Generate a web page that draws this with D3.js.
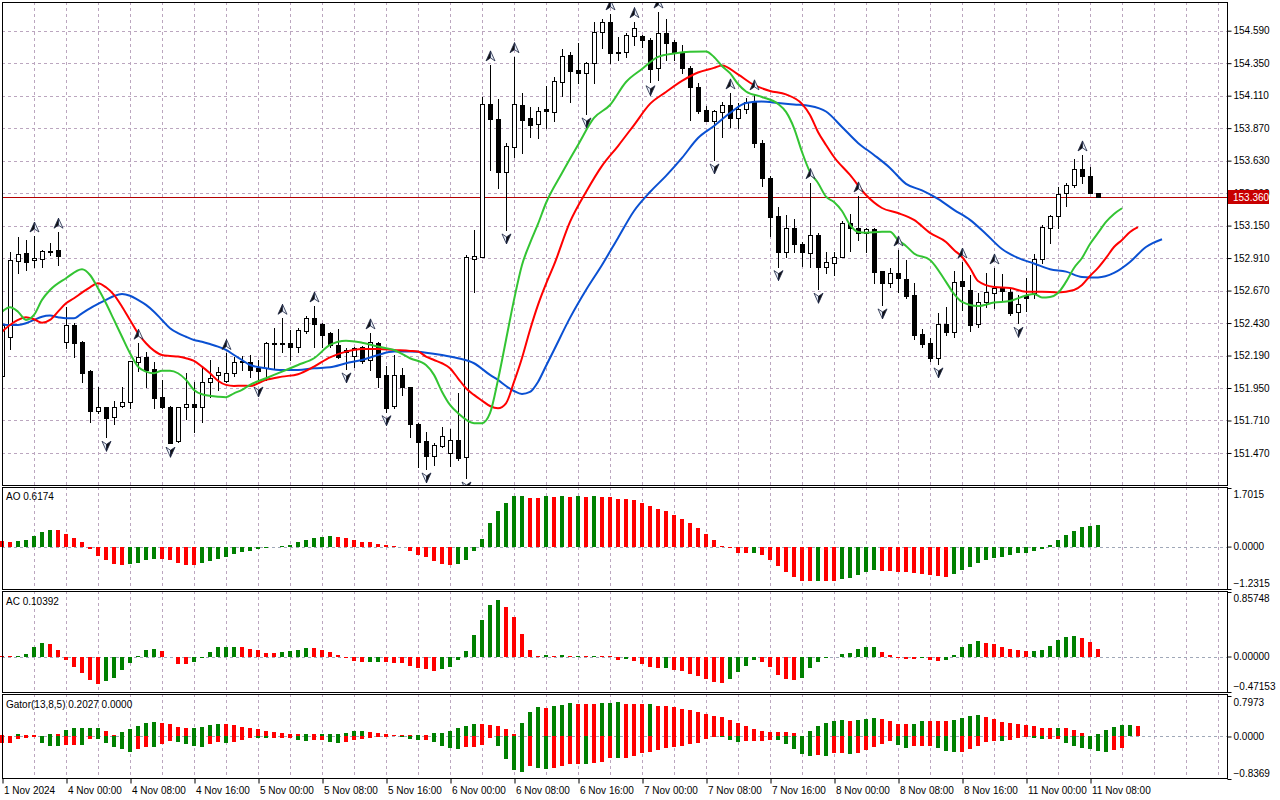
<!DOCTYPE html>
<html>
<head>
<meta charset="utf-8">
<script src="https://cdn.jsdelivr.net/npm/d3@7"></script>
<style>
  body { margin: 0; background: #fff; }
  svg { display: block; font-family: "Liberation Sans", Arial, sans-serif; }
</style>
</head>
<body>
<div id="chart"></div>
<script>
const width = 1280;
const height = 800;
const left = 2;
const right = 1227;

// USDJPY-like H1 candles, 1 Nov 16:00 .. 11 Nov 09:00
const opens = [152.039,152.327,152.891,152.946,152.894,152.906,152.965,152.970,152.293,152.416,
152.293,152.076,151.783,151.808,151.734,151.815,151.849,152.145,152.177,152.091,
151.886,151.812,151.561,151.808,151.832,151.812,151.993,152.047,152.004,152.059,
152.146,152.145,152.098,152.096,152.276,152.285,152.281,152.251,152.374,152.465,
152.423,152.355,152.268,152.216,152.187,152.255,152.157,152.285,152.047,151.817,
152.047,151.956,151.684,151.559,151.448,151.524,151.472,151.566,151.441,152.901,
152.921,154.049,153.938,153.548,153.733,154.041,153.943,153.899,154.010,153.992,
154.213,154.411,154.300,154.280,154.349,154.578,154.657,154.423,154.435,154.553,
154.551,154.521,154.312,154.571,154.509,154.435,154.312,154.172,154.004,153.925,
153.992,154.041,153.943,154.010,154.066,153.758,153.500,153.221,152.957,153.130,
153.014,152.950,153.081,152.847,152.876,152.916,153.167,153.130,153.093,153.123,
152.817,152.728,152.798,152.754,152.638,152.349,152.281,152.174,152.421,152.366,
152.741,152.674,152.423,152.584,152.650,152.687,152.662,152.510,152.638,152.650,
152.901,153.135,153.221,153.389,153.450,153.566,153.519,153.393];
const highs = [152.527,152.955,153.066,153.044,153.073,152.970,153.019,153.101,152.551,152.431,
152.300,152.080,151.960,151.812,151.854,151.960,152.150,152.281,152.219,152.140,
152.010,151.816,151.812,152.064,151.997,152.108,152.157,152.108,152.205,152.182,
152.187,152.194,152.157,152.293,152.391,152.465,152.379,152.391,152.482,152.556,
152.428,152.366,152.384,152.246,152.255,152.260,152.357,152.293,152.113,152.194,
152.096,151.960,151.690,151.628,151.542,151.665,151.645,151.911,152.933,153.118,
154.103,154.337,154.083,153.763,154.398,154.128,154.029,154.029,154.182,154.246,
154.453,154.435,154.497,154.361,154.657,154.674,154.714,154.546,154.575,154.657,
154.558,154.534,154.728,154.674,154.521,154.485,154.329,154.202,154.034,154.004,
154.066,154.130,154.054,154.091,154.123,153.783,153.520,153.290,153.229,153.197,
153.031,153.467,153.093,152.957,152.957,153.184,153.236,153.369,153.130,153.130,
152.817,152.835,152.970,152.896,152.728,152.384,152.318,152.507,152.551,152.817,
152.881,152.785,152.650,152.802,152.837,152.793,152.680,152.638,152.761,152.940,
153.155,153.229,153.433,153.467,153.640,153.672,153.585,153.393];
const lows = [152.010,152.239,152.800,152.822,152.847,152.847,152.933,152.857,152.244,152.177,
151.997,151.701,151.764,151.586,151.684,151.810,151.801,152.078,151.960,151.801,
151.805,151.542,151.554,151.721,151.623,151.701,151.886,151.936,151.997,152.039,
152.083,152.034,151.987,152.010,152.096,152.219,152.157,152.219,152.355,152.255,
152.255,152.255,152.170,152.091,152.108,152.133,152.083,151.956,151.775,151.801,
151.899,151.591,151.369,151.352,151.382,151.517,151.374,151.419,151.285,152.660,
152.918,153.561,153.426,153.118,153.659,153.689,153.807,153.795,153.874,153.925,
154.108,154.061,154.206,153.975,154.206,154.460,154.349,154.374,154.398,154.485,
154.472,154.213,154.226,154.374,154.374,154.275,153.930,153.984,153.923,153.635,
153.807,153.881,153.869,153.980,153.733,153.443,153.073,152.847,152.921,152.957,
152.852,152.847,152.680,152.798,152.785,152.916,152.965,153.044,152.957,152.724,
152.564,152.699,152.662,152.613,152.310,152.251,152.150,152.128,152.342,152.325,
152.527,152.374,152.403,152.551,152.539,152.601,152.490,152.428,152.522,152.613,
152.872,153.024,153.130,153.295,153.438,153.467,153.389,153.360];
const closes = [152.416,152.896,152.940,152.884,152.909,152.960,152.963,152.928,152.416,152.285,
152.063,151.783,151.808,151.731,151.812,151.847,152.148,152.177,152.083,151.879,
151.808,151.546,151.808,151.832,151.812,151.993,152.022,152.069,152.059,152.145,
152.139,152.083,152.078,152.285,152.283,152.276,152.251,152.379,152.465,152.421,
152.342,152.268,152.182,152.231,152.248,152.152,152.293,152.034,151.805,152.047,
151.956,151.684,151.554,151.448,151.529,151.596,151.566,151.431,152.918,152.926,
154.049,153.936,153.548,153.741,154.046,153.930,153.894,153.999,153.995,154.219,
154.403,154.295,154.280,154.354,154.578,154.657,154.423,154.435,154.558,154.608,
154.521,154.305,154.571,154.502,154.435,154.312,154.172,153.999,153.925,153.999,
154.041,153.943,154.010,154.066,153.758,153.500,153.216,152.957,153.130,153.012,
152.957,153.081,152.847,152.879,152.916,153.172,153.130,153.093,153.123,152.810,
152.728,152.798,152.761,152.630,152.342,152.276,152.172,152.421,152.366,152.736,
152.706,152.416,152.588,152.657,152.687,152.669,152.507,152.571,152.613,152.904,
153.138,153.221,153.382,153.450,153.566,153.519,153.393,153.360];

// fractal bars
const upFractals = [4, 7, 17, 28, 35, 39, 46, 61, 64, 76, 79, 82, 91, 94, 101, 107, 112, 120, 124, 135];
const downFractals = [13, 21, 32, 43, 48, 53, 58, 63, 73, 81, 89, 97, 102, 110, 117, 127];

// alligator lines, [bar, price] (already shifted forward)
const jawPts = [[0,152.421],[1,152.416],[2,152.416],[3,152.428],[4,152.453],[5,152.477],[6,152.485],[7,152.473],[8,152.465],[9,152.465],[10,152.502],[11,152.539],[12,152.571],[13,152.601],[14,152.630],[15,152.645],[16,152.632],[17,152.601],[18,152.564],[19,152.514],[20,152.453],[21,152.392],[22,152.355],[23,152.329],[24,152.305],[25,152.292],[26,152.275],[27,152.256],[28,152.231],[29,152.194],[30,152.157],[31,152.120],[33,152.096],[35,152.083],[37,152.083],[39,152.096],[41,152.103],[43,152.133],[45,152.157],[47,152.194],[49,152.219],[51,152.219],[53,152.211],[55,152.194],[57,152.170],[59,152.133],[61,152.047],[62,152.010],[63,151.965],[64,151.928],[65,151.906],[66,151.921],[67,151.995],[68,152.113],[69,152.231],[71,152.468],[73,152.674],[75,152.859],[77,153.059],[79,153.258],[81,153.398],[83,153.517],[85,153.650],[87,153.797],[89,153.886],[91,153.982],[93,154.056],[95,154.066],[97,154.056],[99,154.045],[101,154.034],[103,153.993],[105,153.879],[107,153.761],[109,153.672],[111,153.576],[113,153.458],[115,153.410],[117,153.347],[119,153.266],[121,153.192],[123,153.088],[125,152.977],[127,152.911],[129,152.870],[131,152.827],[133,152.810],[135,152.771],[137,152.767],[139,152.800],[141,152.881],[143,152.992],[145,153.049]];
const teethPts = [[0,152.366],[1,152.416],[2,152.453],[3,152.473],[4,152.458],[5,152.433],[6,152.453],[7,152.514],[8,152.576],[9,152.613],[10,152.655],[11,152.694],[12,152.724],[13,152.694],[14,152.638],[15,152.551],[16,152.453],[17,152.355],[18,152.281],[19,152.226],[20,152.194],[21,152.187],[22,152.182],[23,152.170],[24,152.150],[25,152.108],[26,152.059],[27,152.004],[28,151.973],[29,151.965],[30,151.967],[31,151.965],[33,152.010],[35,152.034],[37,152.052],[39,152.108],[41,152.177],[43,152.219],[45,152.239],[47,152.239],[49,152.231],[51,152.224],[52,152.219],[53,152.182],[54,152.157],[55,152.133],[56,152.096],[57,152.022],[58,151.948],[59,151.899],[60,151.857],[61,151.817],[62,151.800],[63,151.837],[64,151.995],[65,152.172],[66,152.379],[67,152.564],[68,152.719],[69,152.859],[71,153.177],[73,153.398],[75,153.591],[77,153.738],[79,153.893],[81,154.049],[83,154.137],[85,154.219],[87,154.281],[89,154.315],[90,154.333],[92,154.267],[94,154.189],[96,154.145],[98,154.119],[100,154.049],[101,153.967],[102,153.842],[103,153.746],[104,153.657],[106,153.524],[108,153.376],[110,153.280],[112,153.243],[114,153.192],[116,153.096],[118,153.029],[119,152.970],[120,152.918],[121,152.837],[122,152.741],[124,152.697],[126,152.689],[128,152.662],[130,152.662],[132,152.656],[134,152.674],[135,152.711],[136,152.778],[137,152.837],[138,152.911],[139,152.992],[140,153.044],[141,153.103],[142,153.138]];
const lipsPts = [[0,152.514],[1,152.547],[2,152.514],[3,152.453],[4,152.490],[5,152.601],[6,152.674],[8,152.761],[10,152.827],[11,152.785],[12,152.687],[13,152.576],[14,152.453],[15,152.329],[16,152.207],[17,152.108],[18,152.071],[19,152.059],[20,152.078],[21,152.078],[22,152.059],[23,152.010],[24,151.936],[25,151.904],[27,151.886],[28,151.882],[29,151.911],[30,151.936],[31,151.973],[33,152.022],[35,152.071],[37,152.120],[39,152.170],[41,152.268],[43,152.300],[45,152.285],[47,152.256],[49,152.231],[51,152.170],[53,152.120],[54,152.047],[55,151.923],[56,151.825],[57,151.764],[59,151.690],[60,151.690],[61,151.764],[62,152.010],[63,152.305],[64,152.601],[65,152.859],[66,153.020],[67,153.162],[68,153.317],[70,153.539],[72,153.746],[74,153.945],[76,154.041],[78,154.211],[80,154.307],[82,154.396],[84,154.422],[86,154.435],[88,154.437],[89,154.396],[90,154.329],[91,154.276],[92,154.196],[93,154.141],[95,154.100],[97,154.049],[98,153.990],[99,153.871],[100,153.694],[101,153.546],[102,153.465],[103,153.364],[104,153.325],[105,153.258],[106,153.155],[107,153.103],[108,153.098],[110,153.105],[111,153.105],[112,153.044],[113,153.000],[114,152.944],[116,152.896],[118,152.734],[119,152.645],[120,152.586],[122,152.556],[124,152.581],[126,152.593],[128,152.634],[129,152.645],[130,152.619],[131,152.623],[132,152.652],[133,152.734],[134,152.837],[135,152.911],[136,153.014],[137,153.096],[138,153.177],[139,153.236],[140,153.278]];

// Awesome oscillator
const ao = [0.16,0.145,0.174,0.194,0.31,0.436,0.484,0.48,0.368,0.262,
0.145,-0.058,-0.271,-0.388,-0.504,-0.53,-0.52,-0.465,-0.388,-0.359,
-0.36,-0.388,-0.485,-0.533,-0.54,-0.485,-0.417,-0.359,-0.291,-0.213,
-0.165,-0.126,-0.058,-0.048,-0.02,0.02,0.048,0.136,0.194,0.262,
0.291,0.31,0.281,0.252,0.194,0.136,0.135,0.068,0.039,0.005,
-0.005,-0.126,-0.242,-0.3,-0.417,-0.494,-0.533,-0.494,-0.378,-0.116,
0.223,0.678,1.037,1.279,1.473,1.483,1.424,1.42,1.473,1.453,
1.455,1.45,1.473,1.453,1.455,1.45,1.448,1.386,1.376,1.357,
1.279,1.192,1.095,1.037,0.921,0.795,0.698,0.533,0.368,0.194,
0.029,-0.048,-0.194,-0.2,-0.19,-0.252,-0.388,-0.562,-0.736,-0.872,
-0.99,-1.0,-0.995,-1.0,-1.005,-0.93,-0.91,-0.824,-0.736,-0.678,
-0.707,-0.71,-0.736,-0.74,-0.775,-0.804,-0.833,-0.853,-0.882,-0.795,
-0.678,-0.591,-0.475,-0.388,-0.33,-0.29,-0.233,-0.194,-0.174,-0.116,
-0.058,0.048,0.194,0.339,0.455,0.562,0.61,0.6174];

// Accelerator oscillator
const ac = [0.006,0.004,0.006,0.04,0.121,0.184,0.17,0.085,-0.04,-0.145,
-0.22,-0.31,-0.36,-0.33,-0.28,-0.185,-0.08,0.01,0.092,0.104,
0.07,0.0,-0.095,-0.097,-0.077,-0.02,0.061,0.12,0.128,0.132,
0.128,0.101,0.084,0.053,0.049,0.06,0.07,0.092,0.119,0.118,
0.092,0.066,0.026,-0.024,-0.064,-0.077,-0.074,-0.072,-0.077,-0.091,
-0.092,-0.122,-0.158,-0.167,-0.189,-0.171,-0.145,-0.05,0.079,0.28,
0.481,0.683,0.75,0.656,0.522,0.294,0.093,0.005,0.026,0.01,
0.015,0.008,0.012,0.005,0.007,0.003,0.001,-0.04,-0.035,-0.055,
-0.095,-0.145,-0.158,-0.155,-0.176,-0.19,-0.23,-0.257,-0.297,-0.337,
-0.346,-0.297,-0.2,-0.12,-0.04,-0.077,-0.145,-0.239,-0.293,-0.31,
-0.279,-0.158,-0.077,-0.024,-0.002,0.034,0.052,0.101,0.132,0.133,
0.066,0.026,-0.024,-0.037,-0.038,-0.02,-0.05,-0.064,-0.05,0.026,
0.12,0.169,0.2,0.186,0.16,0.12,0.106,0.093,0.07,0.079,
0.093,0.146,0.213,0.254,0.267,0.24,0.187,0.10392];

// Gator oscillator (upper = |jaw-teeth|, lower = -|teeth-lips|)
const gatorUp = [0.02,0.01,0.05,0.03,0.02,0.01,0.05,0.045,0.128,0.167,
0.168,0.17,0.171,0.108,0.03,0.08,0.14,0.207,0.266,0.286,
0.266,0.24,0.187,0.167,0.168,0.187,0.226,0.246,0.245,0.226,
0.187,0.167,0.14,0.108,0.08,0.06,0.049,0.048,0.05,0.045,
0.049,0.05,0.051,0.069,0.108,0.109,0.089,0.069,0.049,0.03,
0.029,0.02,0.025,0.024,0.069,0.07,0.108,0.161,0.207,0.246,
0.24,0.226,0.207,0.148,0.049,0.266,0.482,0.581,0.561,0.6,
0.62,0.653,0.64,0.638,0.636,0.659,0.666,0.686,0.64,0.638,
0.636,0.637,0.6,0.598,0.581,0.541,0.522,0.482,0.443,0.404,
0.384,0.325,0.266,0.207,0.148,0.108,0.089,0.088,0.087,0.069,
0.01,0.108,0.207,0.266,0.305,0.325,0.305,0.325,0.344,0.364,
0.344,0.305,0.246,0.245,0.246,0.305,0.304,0.303,0.302,0.325,
0.364,0.404,0.423,0.384,0.344,0.285,0.259,0.24,0.22,0.207,
0.167,0.161,0.162,0.158,0.128,0.069,0.01,0.049,0.128,0.187,
0.226,0.227,0.2027];
const gatorDown = [-0.13,-0.12,-0.04,-0.02,-0.01,-0.12,-0.18,-0.185,-0.17,-0.168,
-0.17,-0.045,-0.05,-0.12,-0.2,-0.25,-0.3,-0.24,-0.2,-0.21,
-0.14,-0.085,-0.1,-0.14,-0.18,-0.2,-0.14,-0.115,-0.12,-0.1,
-0.06,-0.02,-0.025,-0.03,-0.03,-0.025,-0.02,-0.06,-0.09,-0.07,
-0.07,-0.11,-0.13,-0.11,-0.07,-0.05,-0.02,-0.01,-0.005,0,
-0.01,-0.05,-0.07,-0.07,-0.11,-0.19,-0.233,-0.24,-0.2,-0.199,
-0.167,-0.023,-0.18,-0.436,-0.66,-0.692,-0.574,-0.613,-0.646,-0.613,
-0.574,-0.541,-0.54,-0.545,-0.515,-0.495,-0.43,-0.431,-0.43,-0.384,
-0.33,-0.3,-0.266,-0.233,-0.2,-0.18,-0.155,-0.135,-0.05,-0.003,
-0.005,-0.06,-0.1,-0.083,-0.082,-0.08,-0.069,-0.07,-0.141,-0.246,
-0.344,-0.384,-0.364,-0.384,-0.325,-0.324,-0.344,-0.325,-0.266,-0.207,
-0.148,-0.089,-0.167,-0.226,-0.187,-0.186,-0.185,-0.226,-0.285,-0.305,
-0.304,-0.246,-0.187,-0.108,-0.089,-0.095,-0.062,-0.03,-0.01,-0.036,
-0.056,-0.05,-0.04,-0.135,-0.187,-0.233,-0.253,-0.279,-0.3,-0.262,
-0.236,0,0];

// axis ticks
const priceTicks = [154.59, 154.35, 154.11, 153.87, 153.63, 153.39, 153.15, 152.91, 152.67, 152.43, 152.19, 151.95, 151.71, 151.47];
const lastPrice = 153.360;
const timeTickBars = [0, 8, 16, 24, 32, 40, 48, 56, 64, 72, 80, 88, 96, 104, 112, 120, 128, 136];
const timeLabels = ['1 Nov 2024', '4 Nov 00:00', '4 Nov 08:00', '4 Nov 16:00', '5 Nov 00:00', '5 Nov 08:00',
  '5 Nov 16:00', '6 Nov 00:00', '6 Nov 08:00', '6 Nov 16:00', '7 Nov 00:00', '7 Nov 08:00',
  '7 Nov 16:00', '8 Nov 00:00', '8 Nov 08:00', '8 Nov 16:00', '11 Nov 00:00', '11 Nov 08:00'];

const GREEN = '#008000';
const RED = '#ff0000';
const GRID = '#bba6bf';

// panels: top / bottom pixel rows
const mainP = {top: 2, bottom: 485};
const aoP = {top: 487, bottom: 589};
const acP = {top: 591, bottom: 692};
const gatorP = {top: 694, bottom: 778};

const x = d3.scaleLinear().domain([0, 152]).range([2, 1218]);
const yPrice = d3.scaleLinear().domain([151.226, 154.802]).range([486, 2]);
const yAO = d3.scaleLinear().domain([-1.2315, 1.7015]).range([589, 488]);
const yAC = d3.scaleLinear().domain([-0.47153, 0.85748]).range([692, 592]);
const yGator = d3.scaleLinear().domain([-0.8369, 0.7973]).range([779, 696]);

const svg = d3.select('#chart')
  .append('svg')
  .attr('width', width)
  .attr('height', height);

svg.append('rect').attr('width', width).attr('height', height).attr('fill', '#fff');

const defs = svg.append('defs');
defs.append('clipPath').attr('id', 'clipMain')
  .append('rect').attr('x', left + 1).attr('y', mainP.top + 1)
  .attr('width', right - left - 1).attr('height', mainP.bottom - mainP.top - 1);

// vertical grid, every 4 bars, in every panel
const gridBars = d3.range(0, 153, 4);
for (const p of [mainP, aoP, acP, gatorP]) {
  svg.append('g').selectAll('line')
    .data(gridBars)
    .enter().append('line')
    .attr('x1', d => Math.round(x(d)) + 0.5)
    .attr('x2', d => Math.round(x(d)) + 0.5)
    .attr('y1', p.top)
    .attr('y2', p.bottom)
    .attr('stroke', GRID)
    .attr('stroke-dasharray', '3,3');
}

// horizontal price grid
svg.append('g').selectAll('line')
  .data(priceTicks)
  .enter().append('line')
  .attr('x1', left)
  .attr('x2', right)
  .attr('y1', d => Math.round(yPrice(d)) + 0.5)
  .attr('y2', d => Math.round(yPrice(d)) + 0.5)
  .attr('stroke', GRID)
  .attr('stroke-dasharray', '3,3');

// zero lines of the oscillators
[[yAO], [yAC], [yGator]].forEach(([ys]) => {
  svg.append('line')
    .attr('x1', left).attr('x2', right)
    .attr('y1', Math.round(ys(0)) + 0.5).attr('y2', Math.round(ys(0)) + 0.5)
    .attr('stroke', '#a0a8b8')
    .attr('stroke-dasharray', '3,3');
});

const main = svg.append('g').attr('clip-path', 'url(#clipMain)');

// current price line
main.append('line')
  .attr('x1', left).attr('x2', right)
  .attr('y1', Math.round(yPrice(lastPrice)) + 0.5)
  .attr('y2', Math.round(yPrice(lastPrice)) + 0.5)
  .attr('stroke', '#b40000');

// candles
const idx = d3.range(opens.length);
const candle = main.append('g').attr('shape-rendering', 'crispEdges')
  .selectAll('g')
  .data(idx)
  .enter().append('g');

candle.append('line')
  .attr('x1', i => Math.round(x(i)) + 0.5)
  .attr('x2', i => Math.round(x(i)) + 0.5)
  .attr('y1', i => Math.round(yPrice(highs[i])))
  .attr('y2', i => Math.round(yPrice(lows[i])) + 1)
  .attr('stroke', '#000');

candle.append('rect')
  .attr('x', i => Math.round(x(i)) - 1.5)
  .attr('y', i => Math.round(yPrice(Math.max(opens[i], closes[i]))) + 0.5)
  .attr('width', 4)
  .attr('height', i => Math.max(1, Math.round(yPrice(Math.min(opens[i], closes[i]))) - Math.round(yPrice(Math.max(opens[i], closes[i])))))
  .attr('fill', i => closes[i] >= opens[i] ? '#fff' : '#000')
  .attr('stroke', '#000');

// alligator
const line = d3.line()
  .x(d => x(d[0]))
  .y(d => yPrice(d[1]))
  .curve(d3.curveMonotoneX);

[[jawPts, '#0a50d2'], [teethPts, '#ff0000'], [lipsPts, '#33c433']].forEach(([pts, col]) => {
  main.append('path')
    .attr('d', line(pts))
    .attr('fill', 'none')
    .attr('stroke', col)
    .attr('stroke-width', 2);
});

// fractal arrows
function arrow(g, up) {
  const s = up ? 1 : -1;
  g.append('path')
    .attr('d', `M0,${-5 * s}L-4.5,${5 * s}L0,${2 * s}Z`)
    .attr('fill', up ? '#111' : '#e8eef8')
    .attr('stroke', '#1a2340').attr('stroke-width', 0.8);
  g.append('path')
    .attr('d', `M0,${-5 * s}L4.5,${5 * s}L0,${2 * s}Z`)
    .attr('fill', up ? '#e8eef8' : '#111')
    .attr('stroke', '#1a2340').attr('stroke-width', 0.8);
}

main.append('g').selectAll('g')
  .data(upFractals)
  .enter().append('g')
  .attr('transform', i => `translate(${x(i) + 0.5},${yPrice(highs[i]) - 9})`)
  .each(function() { arrow(d3.select(this), true); });

main.append('g').selectAll('g')
  .data(downFractals)
  .enter().append('g')
  .attr('transform', i => `translate(${x(i) + 0.5},${yPrice(lows[i]) + 9})`)
  .each(function() { arrow(d3.select(this), false); });

// histograms
function histogram(values, ys, colorOf) {
  svg.append('g').attr('shape-rendering', 'crispEdges')
    .selectAll('rect')
    .data(values)
    .enter().append('rect')
    .attr('x', (d, i) => Math.round(x(i)) - 2)
    .attr('width', 4)
    .attr('y', d => Math.min(ys(d), ys(0)))
    .attr('height', d => Math.abs(ys(d) - ys(0)))
    .attr('fill', colorOf);
}

histogram(ao, yAO, (d, i) => d > ao[i - 1] ? GREEN : RED);
histogram(ac, yAC, (d, i) => d > ac[i - 1] ? GREEN : RED);
histogram(gatorUp, yGator, (d, i) => d > gatorUp[i - 1] ? GREEN : RED);
histogram(gatorDown, yGator, (d, i) => Math.abs(d) > Math.abs(gatorDown[i - 1]) ? GREEN : RED);

// panel frames
for (const p of [mainP, aoP, acP, gatorP]) {
  svg.append('rect')
    .attr('x', left + 0.5)
    .attr('y', p.top + 0.5)
    .attr('width', right - left)
    .attr('height', p.bottom - p.top)
    .attr('fill', 'none')
    .attr('stroke', '#000');
}

// price axis
const priceAxis = d3.axisRight(yPrice)
  .tickValues(priceTicks)
  .tickSize(4)
  .tickPadding(2)
  .tickFormat(d3.format('.3f'));

svg.append('g')
  .attr('transform', `translate(${right + 0.5},0)`)
  .call(priceAxis)
  .call(g => g.select('.domain').remove())
  .call(g => g.selectAll('text').attr('font-family', '"Liberation Sans", Arial').attr('font-size', 10).attr('fill', '#000'));

// last price tag
svg.append('rect')
  .attr('x', right + 1)
  .attr('y', Math.round(yPrice(lastPrice)) - 7)
  .attr('width', 41)
  .attr('height', 14)
  .attr('fill', '#c80000');
svg.append('text')
  .attr('x', right + 6)
  .attr('y', Math.round(yPrice(lastPrice)) + 4)
  .attr('font-size', 10)
  .attr('fill', '#fff')
  .text(d3.format('.3f')(lastPrice));

// oscillator scales
function sideAxis(ys, fmt) {
  const [lo, hi] = ys.domain();
  const g = svg.append('g')
    .attr('transform', `translate(${right + 0.5},0)`)
    .call(d3.axisRight(ys).tickValues([hi, 0, lo]).tickSize(4).tickPadding(2).tickFormat(fmt));
  g.select('.domain').remove();
  g.selectAll('text')
    .attr('font-family', '"Liberation Sans", Arial')
    .attr('font-size', 10)
    .attr('fill', '#000')
    .attr('dy', (d, i) => i === 0 ? '0.95em' : (i === 2 ? '-0.25em' : '0.32em'));
}
sideAxis(yAO, d3.format('.4f'));
sideAxis(yAC, d3.format('.5f'));
sideAxis(yGator, d3.format('.4f'));

// indicator captions
const caption = (txt, yy) => svg.append('text')
  .attr('x', 6).attr('y', yy)
  .attr('font-size', 10)
  .attr('fill', '#000')
  .text(txt);
caption('AO ' + ao[ao.length - 1].toFixed(4), aoP.top + 13);
caption('AC ' + ac[ac.length - 1].toFixed(5), acP.top + 14);
caption('Gator(13,8,5) ' + gatorUp[gatorUp.length - 1].toFixed(4) + ' ' + Math.abs(gatorDown[gatorDown.length - 1]).toFixed(4), gatorP.top + 14);

// time axis
const timeAxis = d3.axisBottom(x)
  .tickValues(timeTickBars)
  .tickSize(5)
  .tickPadding(3)
  .tickFormat((d, i) => timeLabels[i]);

svg.append('g')
  .attr('transform', `translate(0.5,${gatorP.bottom + 0.5})`)
  .call(timeAxis)
  .call(g => g.select('.domain').remove())
  .call(g => g.selectAll('text')
    .attr('text-anchor', 'start')
    .attr('x', 1)
    .attr('font-family', '"Liberation Sans", Arial')
    .attr('font-size', 10)
    .attr('fill', '#000'));
</script>
</body>
</html>
